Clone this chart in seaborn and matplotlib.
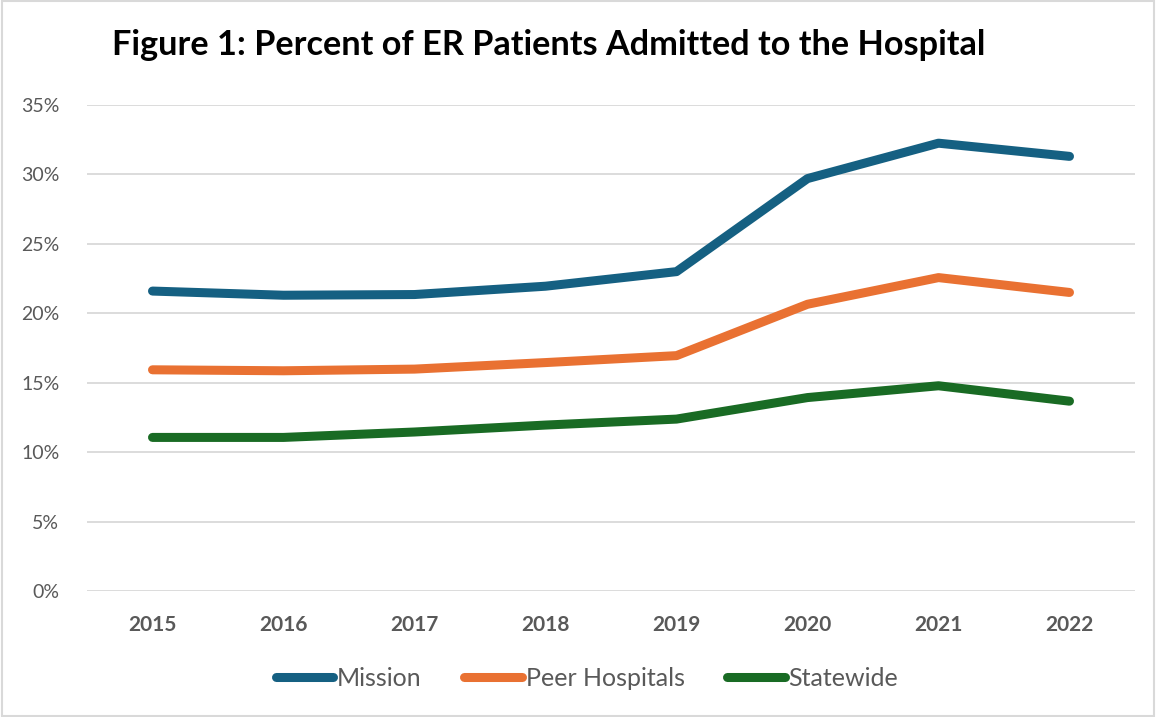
import matplotlib
matplotlib.use("Agg")
import matplotlib.pyplot as plt
import seaborn as sns
import pandas as pd
from matplotlib.ticker import FuncFormatter
from matplotlib.patches import Rectangle

years = ["2015", "2016", "2017", "2018", "2019", "2020", "2021", "2022"]
mission = [21.6, 21.3, 21.35, 21.95, 23.0, 29.7, 32.25, 31.3]
peer = [15.93, 15.86, 15.98, 16.45, 16.95, 20.65, 22.57, 21.5]
statewide = [11.06, 11.06, 11.45, 11.95, 12.38, 13.93, 14.78, 13.67]
series_names = ["Mission", "Peer Hospitals", "Statewide"]
colors = ["#156082", "#E97132", "#196B24"]

sns.set_theme(style="white")
plt.rcParams['font.family'] = ['Lato', 'DejaVu Sans']

df = pd.DataFrame({
    "Year": years * 3,
    "Value": mission + peer + statewide,
    "Series": [series_names[0]] * 8 + [series_names[1]] * 8 + [series_names[2]] * 8,
})
df["Pos"] = df["Year"].map({y: i for i, y in enumerate(years)})

fig = plt.figure(figsize=(11.56, 7.17), dpi=100)
ax = fig.add_axes([87 / 1156, 1 - 591 / 717, (1135 - 87) / 1156, (591 - 105) / 717])

sns.lineplot(data=df, x="Pos", y="Value", hue="Series", palette=dict(zip(series_names, colors)),
             linewidth=6.5, ax=ax, solid_capstyle="round", solid_joinstyle="round", legend=True)

ax.set_xlim(-0.5, 7.5)
ax.set_ylim(0, 35)
ax.set_yticks(range(0, 36, 5))
ax.yaxis.set_major_formatter(FuncFormatter(lambda v, p: f"{int(v)}%"))
ax.set_xticks(range(len(years)))
ax.set_xticklabels(years, fontweight="bold")
ax.tick_params(axis="y", labelsize=14, labelcolor="#595959", length=0, pad=20)
ax.tick_params(axis="x", labelsize=15, labelcolor="#595959", length=0, pad=17)
ax.grid(axis="y", color="#D9D9D9", linewidth=1.3)
ax.set_axisbelow(True)
for s in ax.spines.values():
    s.set_visible(False)
ax.set_xlabel("")
ax.set_ylabel("")

handles, labels = ax.get_legend_handles_labels()
for h in handles:
    h.set_linewidth(6.5)
    h.set_solid_capstyle("round")
ax.legend(handles, labels, loc="center", bbox_to_anchor=(587 / 1156, 1 - 678 / 717),
          bbox_transform=fig.transFigure, ncol=3, frameon=False, fontsize=18,
          handlelength=2.3, handletextpad=0.15, columnspacing=1.7, labelcolor="#595959")

fig.text(112 / 1156, 1 - 45 / 717, "Figure 1: Percent of ER Patients Admitted to the Hospital",
         fontsize=24.7, fontweight="bold", color="black", ha="left", va="center")

fig.patches.append(Rectangle((0.002, 0.002), 0.996, 0.996, transform=fig.transFigure,
                             fill=False, edgecolor="#D9D9D9", linewidth=1.5))

fig.savefig("out.png", dpi=100)
